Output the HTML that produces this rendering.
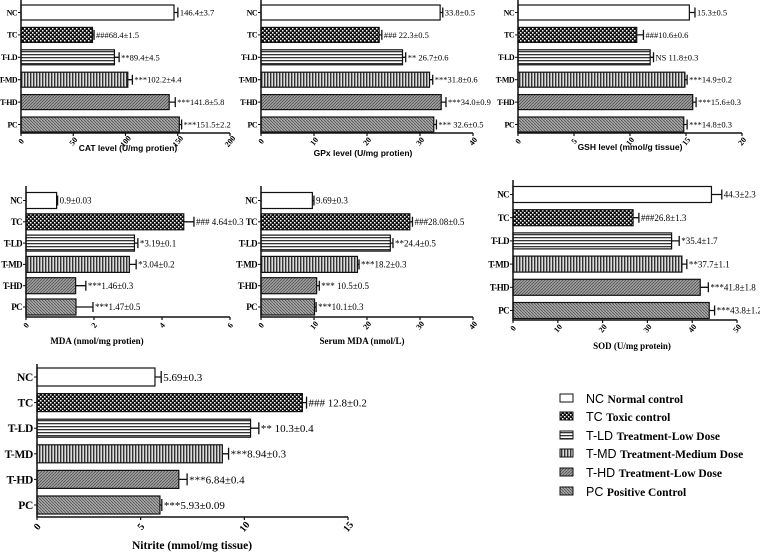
<!DOCTYPE html>
<html><head><meta charset="utf-8"><style>
html,body{margin:0;padding:0;background:#fff;}
svg{display:block;}
.cat{font-family:"Liberation Serif",serif;font-weight:bold;}
.val{font-family:"Liberation Serif",serif;}
.t1{font-family:"Liberation Sans",sans-serif;font-weight:bold;}
.t2{font-family:"Liberation Serif",serif;font-weight:bold;}
</style></head><body>
<svg id="fig" width="760" height="553" viewBox="0 0 760 553" xmlns="http://www.w3.org/2000/svg">
<defs>
<pattern id="pNC" width="4" height="4" patternUnits="userSpaceOnUse"><rect width="4" height="4" fill="#fff"/></pattern>
<pattern id="pTC" width="4" height="4" patternUnits="userSpaceOnUse"><rect width="4" height="4" fill="#111"/><rect x="0" y="0" width="1.5" height="1.5" fill="#fff"/><rect x="2" y="2" width="1.5" height="1.5" fill="#fff"/></pattern>
<pattern id="pLD" width="4" height="3" patternUnits="userSpaceOnUse"><rect width="4" height="3" fill="#fff"/><rect y="0" width="4" height="1.3" fill="#333"/></pattern>
<pattern id="pMD" width="3" height="4" patternUnits="userSpaceOnUse"><rect width="3" height="4" fill="#ddd"/><rect x="0" width="1.4" height="4" fill="#333"/></pattern>
<pattern id="pHD" width="3" height="3" patternUnits="userSpaceOnUse"><rect width="3" height="3" fill="#a0a0a0"/><path d="M0,3 L3,0" stroke="#555" stroke-width="0.9"/></pattern>
<pattern id="pPC" width="3" height="3" patternUnits="userSpaceOnUse"><rect width="3" height="3" fill="#aaa"/><path d="M0,0 L3,3" stroke="#555" stroke-width="0.9"/></pattern>
</defs>
</svg>
<script>
const groups = ["NC","TC","T-LD","T-MD","T-HD","PC"];
const fills = ["pNC","pTC","pLD","pMD","pHD","pPC"];
const catVals = [146.4,68.4,89.4,102.2,141.8,151.5];
const catErr = [3.7,1.5,4.5,4.4,5.8,2.2];
const catLbl = ["146.4±3.7","###68.4±1.5","**89.4±4.5","***102.2±4.4","***141.8±5.8","***151.5±2.2"];
const gpxVals = [33.8,22.3,26.7,31.8,34.0,32.6];
const gpxErr = [0.5,0.5,0.6,0.6,0.9,0.5];
const gpxLbl = ["33.8±0.5","### 22.3±0.5","** 26.7±0.6","***31.8±0.6","***34.0±0.9","*** 32.6±0.5"];
const gshVals = [15.3,10.6,11.8,14.9,15.6,14.8];
const gshErr = [0.5,0.6,0.3,0.2,0.3,0.3];
const gshLbl = ["15.3±0.5","###10.6±0.6","NS 11.8±0.3","***14.9±0.2","***15.6±0.3","***14.8±0.3"];
const mdaVals = [0.9,4.64,3.19,3.04,1.46,1.47];
const mdaErr = [0.03,0.3,0.1,0.2,0.3,0.5];
const mdaLbl = ["0.9±0.03","### 4.64±0.3","*3.19±0.1","*3.04±0.2","***1.46±0.3","***1.47±0.5"];
const smdaVals = [9.69,28.08,24.4,18.2,10.5,10.1];
const smdaErr = [0.3,0.5,0.5,0.3,0.5,0.3];
const smdaLbl = ["9.69±0.3","###28.08±0.5","**24.4±0.5","***18.2±0.3","*** 10.5±0.5","***10.1±0.3"];
const sodVals = [44.3,26.8,35.4,37.7,41.8,43.8];
const sodErr = [2.3,1.3,1.7,1.1,1.8,1.2];
const sodLbl = ["44.3±2.3","###26.8±1.3","*35.4±1.7","**37.7±1.1","***41.8±1.8","***43.8±1.2"];
const nitVals = [5.69,12.8,10.3,8.94,6.84,5.93];
const nitErr = [0.3,0.2,0.4,0.3,0.4,0.09];
const nitLbl = ["5.69±0.3","### 12.8±0.2","** 10.3±0.4","***8.94±0.3","***6.84±0.4","***5.93±0.09"];
const catTicks = [0,50,100,150,200];
const gpxTicks = [0,10,20,30,40];
const gshTicks = [0,5,10,15,20];
const mdaTicks = [0,2,4,6];
const smdaTicks = [0,10,20,30,40];
const sodTicks = [0,10,20,30,40,50];
const nitTicks = [0,5,10,15];

const NS="http://www.w3.org/2000/svg";
const svg=document.getElementById('fig');
function mk(tag,attrs,parent,text){const e=document.createElementNS(NS,tag);for(const k in attrs)e.setAttribute(k,attrs[k]);if(text!==undefined)e.textContent=text;(parent||svg).appendChild(e);return e;}

function panel(name,vals,errs,lbls,ticks,L){
  const g=mk('g',{});
  
  
  const max=ticks[ticks.length-1];
  const x=v=>L.x0+v*(L.x1-L.x0)/max;
  const y=i=>L.c0+i*L.pitch;
  vals.forEach((v,i)=>{
    const r=mk('rect',{x:x(0),y:y(i)-L.bh/2,width:x(v)-x(0),height:L.bh,fill:'url(#'+fills[i]+')',stroke:'#111','stroke-width':1.2},g);
    
    
    const xe=x(v+errs[i]);
    const eb=mk('path',{d:`M${x(v)},${y(i)}H${xe}M${xe},${y(i)-L.cap}V${y(i)+L.cap}`,stroke:'#111','stroke-width':1.3,fill:'none'},g);
    
    
    const t=mk('text',{x:xe+2,y:y(i)+L.vf*0.35,'font-size':L.vf,class:'val'},g,lbls[i]);
    
    
    const c=mk('text',{x:L.x0-4,y:y(i)+L.cf*0.35,'font-size':L.cf,'text-anchor':'end',class:'cat','letter-spacing':L.ls||0},g,groups[i]);
    
    
    mk('line',{x1:L.x0-3,x2:L.x0,y1:y(i),y2:y(i),stroke:'#111'},g);
  });
  const ax=mk('path',{d:`M${L.x0},${L.top}V${L.ay}H${x(max)}`,stroke:'#111','stroke-width':1.5,fill:'none'},g);
  
  
  ticks.forEach(tk=>{
    mk('line',{x1:x(tk),x2:x(tk),y1:L.ay,y2:L.ay+3,stroke:'#111','stroke-width':1.2},g);
    const ty=L.ay+L.tf+3;
    const t=mk('text',{x:x(tk),y:ty,'font-size':L.tf,'text-anchor':'middle',class:'cat',transform:`rotate(-50 ${x(tk)} ${ty-L.tf*0.35})`},g,tk);
    
    
  });
  const tt=mk('text',{x:L.tx,y:L.ty,'font-size':L.ttf,'text-anchor':'middle',class:L.tcls},g,L.title);
  
  
}
const R1={c0:12.5,pitch:22.4,bh:15,cap:5,ay:133,top:0,vf:8.5,cf:8,ls:-0.6,tf:8,ttf:8.5,ty:151,tcls:'t1'};
panel('cat',catVals,catErr,catLbl,catTicks,Object.assign({},R1,{x0:21,x1:230,tx:128,title:'CAT level (U/mg protien)'}));
panel('gpx',gpxVals,gpxErr,gpxLbl,gpxTicks,Object.assign({},R1,{x0:261,x1:473,tx:363,ty:156,title:'GPx level (U/mg protien)'}));
panel('gsh',gshVals,gshErr,gshLbl,gshTicks,Object.assign({},R1,{x0:518,x1:742,tx:630,ty:150,title:'GSH level (mmol/g tissue)'}));
const R2={c0:200.5,pitch:21.3,bh:16,cap:5,ay:317,top:186,vf:9,cf:9,ls:-0.6,tf:8,ttf:9,ty:344,tcls:'t2'};
panel('mda',mdaVals,mdaErr,mdaLbl,mdaTicks,Object.assign({},R2,{x0:26,x1:230,tx:97,title:'MDA (nmol/mg protien)'}));
panel('serum-mda',smdaVals,smdaErr,smdaLbl,smdaTicks,Object.assign({},R2,{x0:261,x1:473,tx:362,title:'Serum MDA (nmol/L)'}));
panel('sod',sodVals,sodErr,sodLbl,sodTicks,Object.assign({},R2,{x0:513,x1:737,c0:194.5,pitch:23.2,top:180,ay:320,tx:632,ty:349,title:'SOD (U/mg protein)'}));
panel('nitrite',nitVals,nitErr,nitLbl,nitTicks,{x0:37,x1:348,c0:377,pitch:25.6,bh:18,cap:6,ay:517,top:364,vf:11,cf:11.5,ls:-0.3,tf:10,ttf:11.5,tx:192,ty:549,tcls:'t2',title:'Nitrite (mmol/mg tissue)'});

const legDesc=["Normal control","Toxic control","Treatment-Low Dose","Treatment-Medium Dose","Treatment-Low Dose","Positive Control"];
const legY=[399,417,436,454,473,492];
const lg=mk('g',{});


groups.forEach((gname,i)=>{
  const r=mk('rect',{x:560,y:legY[i]-5,width:13,height:8,fill:'url(#'+fills[i]+')',stroke:'#111','stroke-width':1},lg);
  
  
  const t=mk('text',{x:586,y:legY[i]+4,'font-size':12.5,'font-family':'"Liberation Sans",sans-serif'},lg);
  
  
  mk('tspan',{},t,gname+'  ');
  mk('tspan',{'font-family':'"Liberation Serif",serif','font-weight':'bold','font-size':11.5},t,legDesc[i]);
});
</script>
</body></html>
